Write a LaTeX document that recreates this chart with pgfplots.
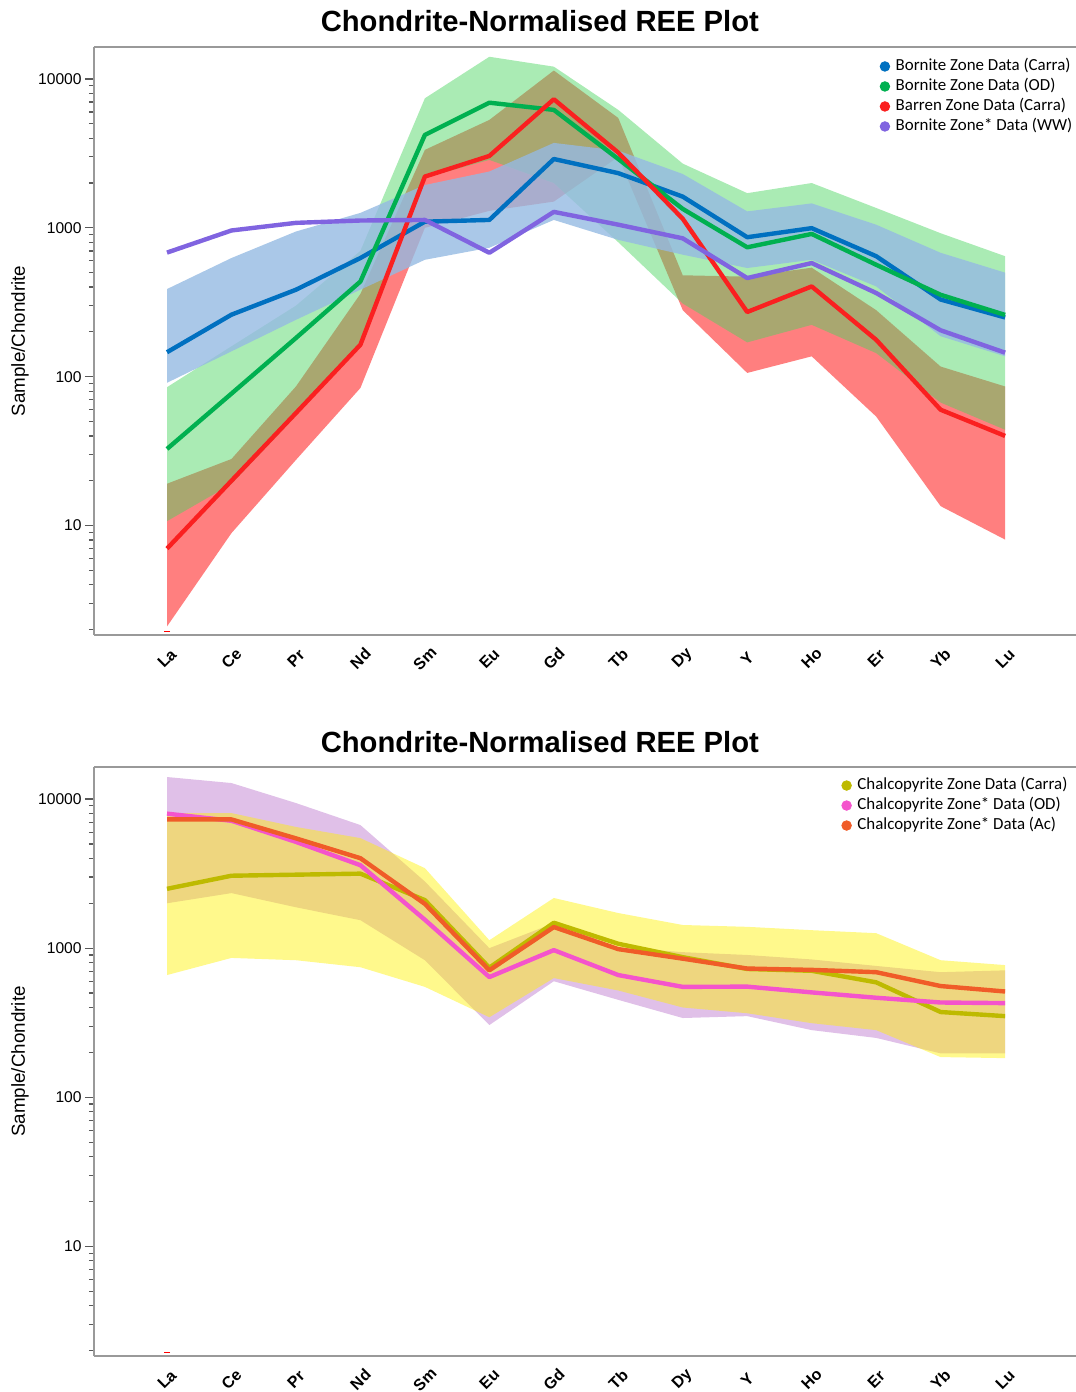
\documentclass[border=0pt]{standalone}
\usepackage{fontspec}
\setmainfont{Liberation Sans}
\newfontfamily\carlito{Carlito}
\usepackage{pgfplots}
\pgfplotsset{compat=1.18}

% line colours
\definecolor{bnC}{RGB}{0,112,192}
\definecolor{bnOD}{RGB}{0,176,80}
\definecolor{brC}{RGB}{250,32,32}
\definecolor{bnWW}{RGB}{128,100,224}
\definecolor{cpC}{RGB}{190,186,0}
\definecolor{cpOD}{RGB}{244,84,204}
\definecolor{cpAc}{RGB}{240,92,40}
% band colours (used with transparency)
\definecolor{bandBlue}{RGB}{149,186,226}
\definecolor{bandGreen}{RGB}{74,213,96}
\definecolor{bandLilac}{RGB}{166,75,189}

\begin{document}
\begin{tikzpicture}
\path[use as bounding box] (0pt,0pt) rectangle (538pt,-696pt);

% ---------------- bornite / barren zones ----------------
\begin{axis}[
  at={(47pt,-23.5pt)}, anchor=north west,
  scale only axis, width=491pt, height=294pt,
  ymode=log, ymin=1.84, ymax=16400,
  xmin=-1.1325, xmax=14.10,
  axis x line*=box, axis y line*=left,
  axis line style={draw=gray!80, line width=0.9pt},
  xtick={0,1,2,3,4,5,6,7,8,9,10,11,12,13},
  xticklabels={La,Ce,Pr,Nd,Sm,Eu,Gd,Tb,Dy,Y,Ho,Er,Yb,Lu},
  x tick style={draw=none},
  xticklabel style={yshift=-7.25pt, rotate=45, anchor=center,
    font=\bfseries\fontsize{8}{9}\selectfont},
  ytick={10,100,1000,10000},
  yticklabels={10,100,1000,10000},
  minor ytick={2,3,4,5,6,7,8,9,20,30,40,50,60,70,80,90,200,300,400,500,600,700,800,900,2000,3000,4000,5000,6000,7000,8000,9000},
  tick align=outside,
  major tick length=4.5pt, minor tick length=2.5pt,
  y tick style={draw=gray!70!black, line width=0.6pt},
  yticklabel style={font=\fontsize{7.8}{9}\selectfont, inner sep=1.5pt},
  ylabel={Sample/Chondrite},
  ylabel style={at={(axis description cs:-0.0754,0.5)}, anchor=center,
    font=\fontsize{9.4}{11}\selectfont},
  title={Chondrite-Normalised REE Plot},
  title style={at={(axis description cs:0.454,1)}, anchor=base, yshift=1.5pt,
    font=\bfseries\fontsize{14.6}{17}\selectfont},
  legend cell align=left,
  legend style={at={(axis description cs:0.794,0.9914)}, draw=none, fill=none,
    anchor=north west, font=\carlito\fontsize{8.45}{10}\selectfont, row sep=0pt,
    nodes={inner sep=1pt, text height=6pt, text depth=2pt},
    /tikz/every odd column/.append style={column sep=2pt}},
]
  % envelopes: upper edge La->Lu, then lower edge Lu->La
  % Barren Zone (Carra)
  \addplot[draw=none, fill=red, fill opacity=0.5, forget plot] coordinates {
    (0,19.1) (1,28) (2,86) (3,360) (4,3340) (5,5310) (6,11400) (7,5470)
    (8,480) (9,470) (10,540) (11,280) (12,117) (13,86)
    (13,8.05) (12,13.5) (11,54) (10,137) (9,106) (8,280) (7,3000) (6,1500)
    (5,1300) (4,1000) (3,84) (2,27.6) (1,8.9) (0,2.1)};
  % Bornite Zone (OD)
  \addplot[draw=none, fill=bandGreen, fill opacity=0.47, forget plot] coordinates {
    (0,85) (1,160) (2,300) (3,700) (4,7420) (5,14100) (6,12100) (7,6200)
    (8,2700) (9,1710) (10,2000) (11,1360) (12,920) (13,645)
    (13,44) (12,67) (11,144) (10,223) (9,170) (8,310) (7,800) (6,2000)
    (5,2860) (4,2170) (3,160) (2,55) (1,19) (0,10.7)};
  % Bornite Zone (Carra)
  \addplot[draw=none, fill=bandBlue, fill opacity=0.8, forget plot] coordinates {
    (0,388) (1,627) (2,945) (3,1260) (4,1940) (5,2390) (6,3720) (7,3300)
    (8,2300) (9,1290) (10,1460) (11,1050) (12,680) (13,500)
    (13,137) (12,187) (11,404) (10,610) (9,537) (8,660) (7,830) (6,1130)
    (5,735) (4,610) (3,384) (2,241) (1,148) (0,91)};
  \addplot[only marks, mark=-, mark size=1.6pt, red, forget plot] coordinates {(0,1.95)};
  % mean profiles
  \addplot[line width=2.2pt, line join=round, color=bnC, forget plot] coordinates {
    (0,146) (1,261) (2,384) (3,627) (4,1100) (5,1130) (6,2900) (7,2330)
    (8,1620) (9,865) (10,995) (11,645) (12,330) (13,250)};
  \addplot[line width=2.2pt, line join=round, color=bnOD, forget plot] coordinates {
    (0,32.7) (1,77) (2,182) (3,436) (4,4210) (5,6930) (6,6200) (7,2900)
    (8,1340) (9,740) (10,910) (11,565) (12,355) (13,260)};
  \addplot[line width=2.2pt, line join=round, color=brC, forget plot] coordinates {
    (0,7.0) (1,20) (2,57) (3,164) (4,2210) (5,3040) (6,7310) (7,3200)
    (8,1150) (9,272) (10,404) (11,177) (12,60) (13,40)};
  \addplot[line width=2.2pt, line join=round, color=bnWW, forget plot] coordinates {
    (0,682) (1,960) (2,1080) (3,1120) (4,1130) (5,680) (6,1280) (7,1050)
    (8,850) (9,460) (10,580) (11,365) (12,205) (13,145)};
  \addlegendimage{only marks, mark=*, mark size=2.4pt, color=bnC}
  \addlegendentry{Bornite Zone Data (Carra)}
  \addlegendimage{only marks, mark=*, mark size=2.4pt, color=bnOD}
  \addlegendentry{Bornite Zone Data (OD)}
  \addlegendimage{only marks, mark=*, mark size=2.4pt, color=brC}
  \addlegendentry{Barren Zone Data (Carra)}
  \addlegendimage{only marks, mark=*, mark size=2.4pt, color=bnWW}
  \addlegendentry{Bornite Zone* Data (WW)}
\end{axis}

% ---------------- chalcopyrite zones ----------------
\begin{axis}[
  at={(47pt,-383.5pt)}, anchor=north west,
  scale only axis, width=491pt, height=294.5pt,
  ymode=log, ymin=1.84, ymax=16400,
  xmin=-1.1325, xmax=14.10,
  axis x line*=box, axis y line*=left,
  axis line style={draw=gray!80, line width=0.9pt},
  xtick={0,1,2,3,4,5,6,7,8,9,10,11,12,13},
  xticklabels={La,Ce,Pr,Nd,Sm,Eu,Gd,Tb,Dy,Y,Ho,Er,Yb,Lu},
  x tick style={draw=none},
  xticklabel style={yshift=-7.25pt, rotate=45, anchor=center,
    font=\bfseries\fontsize{8}{9}\selectfont},
  ytick={10,100,1000,10000},
  yticklabels={10,100,1000,10000},
  minor ytick={2,3,4,5,6,7,8,9,20,30,40,50,60,70,80,90,200,300,400,500,600,700,800,900,2000,3000,4000,5000,6000,7000,8000,9000},
  tick align=outside,
  major tick length=4.5pt, minor tick length=2.5pt,
  y tick style={draw=gray!70!black, line width=0.6pt},
  yticklabel style={font=\fontsize{7.8}{9}\selectfont, inner sep=1.5pt},
  ylabel={Sample/Chondrite},
  ylabel style={at={(axis description cs:-0.0754,0.5)}, anchor=center,
    font=\fontsize{9.4}{11}\selectfont},
  title={Chondrite-Normalised REE Plot},
  title style={at={(axis description cs:0.454,1)}, anchor=base, yshift=1.5pt,
    font=\bfseries\fontsize{14.6}{17}\selectfont},
  legend cell align=left,
  legend style={at={(axis description cs:0.755,0.993)}, draw=none, fill=none,
    anchor=north west, font=\carlito\fontsize{8.45}{10}\selectfont, row sep=0pt,
    nodes={inner sep=1pt, text height=6pt, text depth=2pt},
    /tikz/every odd column/.append style={column sep=2pt}},
]
  % Chalcopyrite Zone* (OD)
  \addplot[draw=none, fill=bandLilac, fill opacity=0.35, forget plot] coordinates {
    (0,14050) (1,12800) (2,9400) (3,6690) (4,2800) (5,1000) (6,1470) (7,1016)
    (8,940) (9,900) (10,840) (11,760) (12,690) (13,710)
    (13,197) (12,197) (11,250) (10,282) (9,350) (8,340) (7,450) (6,600)
    (5,305) (4,830) (3,1540) (2,1880) (1,2340) (0,2000)};
  % Chalcopyrite Zone (Carra)
  \addplot[draw=none, fill=yellow, fill opacity=0.45, forget plot] coordinates {
    (0,8050) (1,8050) (2,6500) (3,5470) (4,3440) (5,1130) (6,2170) (7,1720)
    (8,1430) (9,1390) (10,1320) (11,1260) (12,830) (13,770)
    (13,183) (12,186) (11,282) (10,314) (9,366) (8,400) (7,520) (6,630)
    (5,344) (4,550) (3,745) (2,830) (1,860) (0,660)};
  \addplot[only marks, mark=-, mark size=1.6pt, red, forget plot] coordinates {(0,1.95)};
  % mean profiles
  \addplot[line width=2.2pt, line join=round, color=cpC, forget plot] coordinates {
    (0,2500) (1,3060) (2,3110) (3,3160) (4,2100) (5,740) (6,1480) (7,1070)
    (8,870) (9,725) (10,705) (11,590) (12,373) (13,350)};
  \addplot[line width=2.2pt, line join=round, color=cpOD, forget plot] coordinates {
    (0,7980) (1,7150) (2,5160) (3,3600) (4,1550) (5,640) (6,970) (7,660)
    (8,550) (9,552) (10,505) (11,465) (12,432) (13,428)};
  \addplot[line width=2.2pt, line join=round, color=cpAc, forget plot] coordinates {
    (0,7300) (1,7300) (2,5450) (3,4010) (4,1980) (5,710) (6,1385) (7,985)
    (8,850) (9,730) (10,715) (11,690) (12,557) (13,512)};
  \addlegendimage{only marks, mark=*, mark size=2.4pt, color=cpC}
  \addlegendentry{Chalcopyrite Zone Data (Carra)}
  \addlegendimage{only marks, mark=*, mark size=2.4pt, color=cpOD}
  \addlegendentry{Chalcopyrite Zone* Data (OD)}
  \addlegendimage{only marks, mark=*, mark size=2.4pt, color=cpAc}
  \addlegendentry{Chalcopyrite Zone* Data (Ac)}
\end{axis}
\end{tikzpicture}
\end{document}
